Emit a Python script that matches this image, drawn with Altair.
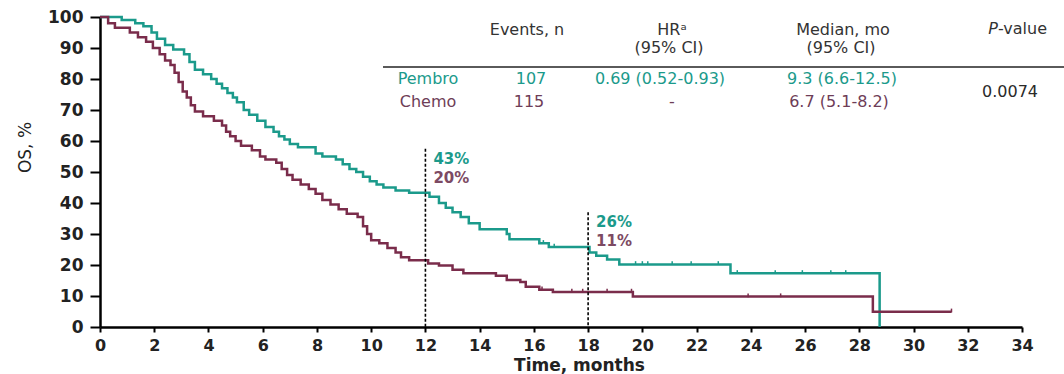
import altair as alt
import pandas as pd

# ---------------- data ----------------
pembro_t = [0, 0.8, 1.3, 1.6, 1.9, 2.1, 2.4, 2.7, 3.1, 3.3, 3.5, 3.8, 4.1, 4.3, 4.5, 4.7,
            4.9, 5.05, 5.3, 5.5, 5.8, 6.1, 6.4, 6.6, 6.8, 7.0, 7.3, 7.95, 8.2, 8.7, 8.95,
            9.2, 9.45, 9.7, 9.95, 10.2, 10.45, 10.9, 11.4, 12.15, 12.5, 12.75, 13.0, 13.3,
            13.6, 14.0, 15.0, 15.1, 16.2, 16.55, 18.05, 18.3, 18.7, 19.15, 23.25, 28.75]
pembro_s = [100, 99, 98, 97, 95, 93, 91, 89.5, 88, 85.5, 83, 81.5, 80, 78.5, 77, 75.5,
            74, 72.5, 70, 68.5, 66.5, 64.5, 63, 61.5, 60.5, 59, 58, 56, 55, 54, 52.5,
            51, 50, 48.5, 47, 46, 45, 44, 43.3, 42, 40, 38.5, 37, 35.5,
            33.5, 31.5, 30, 28.3, 27, 25.8, 24, 23, 21.8, 20.2, 17.3, 0]

chemo_t = [0, 0.3, 0.55, 1.1, 1.4, 1.7, 1.95, 2.2, 2.4, 2.6, 2.75, 2.9, 3.05, 3.2, 3.35,
           3.5, 3.8, 4.2, 4.5, 4.65, 4.8, 5.0, 5.2, 5.6, 5.9, 6.1, 6.5, 6.7, 6.9, 7.1,
           7.4, 7.7, 7.95, 8.2, 8.5, 8.8, 9.1, 9.5, 9.7, 9.85, 10.0, 10.3, 10.6, 10.9,
           11.1, 11.4, 12.1, 12.5, 13.0, 13.4, 14.6, 15.0, 15.5, 15.7, 16.2, 16.7,
           19.65, 28.5, 31.4]
chemo_s = [100, 98, 96.5, 95, 93.5, 92, 90, 88, 86, 84.5, 82, 79, 76, 74, 71.5,
           69.5, 68, 66.5, 65, 63, 61.5, 60, 58.5, 57, 55, 54, 53, 51, 49, 47.5,
           46, 44.5, 43, 41, 39.5, 38, 36.5, 35.5, 32.5, 30, 28, 27, 25.5, 24,
           22.5, 21.5, 20.5, 19.8, 18.5, 17.3, 16.5, 15.2, 14.5, 13, 12, 11.3,
           9.8, 4.9, 4.9]

pembro_censored = [16.35, 16.75, 19.75, 20.0, 20.2, 21.1, 21.8, 22.8, 23.5, 24.9, 25.9, 26.95, 27.5]
chemo_censored = [16.3, 17.4, 17.8, 18.7, 19.6, 23.9, 25.1, 31.4]

landmark_t = [12, 18]
landmark_top = [57.5, 37]
landmark_pembro = ["43%", "26%"]
landmark_chemo = ["20%", "11%"]

x_ticks = list(range(0, 35, 2))
y_ticks = list(range(0, 101, 10))

arms = ["Pembro", "Chemo"]
TEAL = "#1b9a8b"
MAROON = "#7a2c4b"
FONT = "DejaVu Sans"


def step_value(ts, ss, t):
    v = ss[0]
    for ti, si in zip(ts, ss):
        if ti <= t:
            v = si
    return v


curves = pd.concat([
    pd.DataFrame({"arm": "Pembro", "t": pembro_t, "s": pembro_s}),
    pd.DataFrame({"arm": "Chemo", "t": chemo_t, "s": chemo_s}),
])
cens = pd.concat([
    pd.DataFrame({"arm": "Pembro", "t": pembro_censored,
                  "s": [step_value(pembro_t, pembro_s, t) for t in pembro_censored]}),
    pd.DataFrame({"arm": "Chemo", "t": chemo_censored,
                  "s": [step_value(chemo_t, chemo_s, t) for t in chemo_censored]}),
])
landmarks = pd.DataFrame({"t": landmark_t, "s": landmark_top,
                          "p": landmark_pembro, "c": landmark_chemo})

color = alt.Color("arm:N", scale=alt.Scale(domain=arms, range=[TEAL, MAROON]), legend=None)

x_axis = alt.Axis(values=x_ticks, title="Time, months", tickSize=5,
                  labelPadding=5, labelFlush=False, labelOverlap=False,
                  labelFontSize=16,
                  titleX=479, titleY=38, titleAlign="center",
                  titleBaseline="middle", titleFontSize=17,
                  titleFontWeight="bold")
y_axis = alt.Axis(values=y_ticks, title="OS, %", tickSize=10,
                  labelPadding=7, labelFlush=False, labelOverlap=False,
                  labelFontSize=17,
                  titleX=-75, titleY=130, titleAngle=270,
                  titleAlign="center", titleBaseline="middle",
                  titleFontSize=17, titleFontWeight="normal")
x_enc = alt.X("t:Q", scale=alt.Scale(domain=[0, 34], nice=False), axis=x_axis)
y_enc = alt.Y("s:Q", scale=alt.Scale(domain=[0, 100], nice=False), axis=y_axis)

lines = alt.Chart(curves).mark_line(interpolate="step-after", strokeWidth=2.5).encode(
    x=x_enc, y=y_enc, color=color, detail="arm:N")

ticks = alt.Chart(cens).mark_point(shape="M0,-1.6L0,0.3", filled=False, size=16,
                                   strokeWidth=1.5, opacity=1).encode(
    x=x_enc, y=y_enc, color=color)

rules = alt.Chart(landmarks).mark_rule(color="black", strokeWidth=1.6,
                                       strokeDash=[3, 2]).encode(
    x=x_enc, y=y_enc, y2=alt.datum(0))

lab_p = alt.Chart(landmarks).mark_text(align="left", baseline="middle", dx=8, dy=10,
                                       font=FONT, fontSize=15, fontWeight="bold",
                                       color=TEAL).encode(x=x_enc, y=y_enc, text="p:N")
lab_c = alt.Chart(landmarks).mark_text(align="left", baseline="middle", dx=8, dy=29,
                                       font=FONT, fontSize=15, fontWeight="bold",
                                       color="#7d4a63").encode(x=x_enc, y=y_enc, text="c:N")

# ---------------- table (positions in pixels relative to plot origin 100,17) -----
OX, OY = 100, 17
one = pd.DataFrame({"k": [0]})


def txt(s, px, py, col="#3a3a3a", size=16, weight="normal", style="normal", align="center"):
    return alt.Chart(one).mark_text(text=s, align=align, baseline="middle", font=FONT,
                                    fontSize=size, fontWeight=weight, fontStyle=style,
                                    color=col).encode(x=alt.value(px - OX), y=alt.value(py - OY))


HEAD = "#333333"
CHEMO_TXT = "#6e3d57"
table = [
    txt("Events, n", 527, 30, HEAD),
    txt("HRᵃ", 672, 30, HEAD),
    txt("(95% CI)", 669, 48, HEAD),
    txt("Median, mo", 843, 30, HEAD),
    txt("(95% CI)", 841, 48, HEAD),
    txt("P", 998, 29, HEAD, style="italic", align="right"),
    txt("-value", 998, 29, HEAD, align="left"),
    txt("Pembro", 428, 79, TEAL),
    txt("107", 531, 79, TEAL),
    txt("0.69 (0.52-0.93)", 660, 79, TEAL),
    txt("9.3 (6.6-12.5)", 842, 79, TEAL),
    txt("Chemo", 428, 102, CHEMO_TXT),
    txt("115", 529, 102, CHEMO_TXT),
    txt("-", 672, 102, CHEMO_TXT),
    txt("6.7 (5.1-8.2)", 839, 102, CHEMO_TXT),
    txt("0.0074", 1010, 92, "#2a2a2a"),
]
hline = alt.Chart(one).mark_rule(color="#5a5a5a", strokeWidth=2).encode(
    x=alt.value(383 - OX), x2=alt.value(1064 - OX), y=alt.value(67 - OY))

chart = alt.layer(lines, ticks, rules, lab_p, lab_c, hline, *table).properties(
    width=922, height=310,
    autosize=alt.AutoSizeParams(type="none"),
    padding={"left": 100, "top": 17, "right": 42, "bottom": 47},
    background="white",
).configure_view(stroke=None).configure_axis(
    grid=False, domainColor="black", domainWidth=2.5, tickColor="black", tickWidth=2,
    labelFont=FONT, labelFontWeight="bold", labelColor="#222222",
    titleFont=FONT, titleColor="#222222",
)

chart.save("out.html", embed_options={"renderer": "svg", "actions": False})
